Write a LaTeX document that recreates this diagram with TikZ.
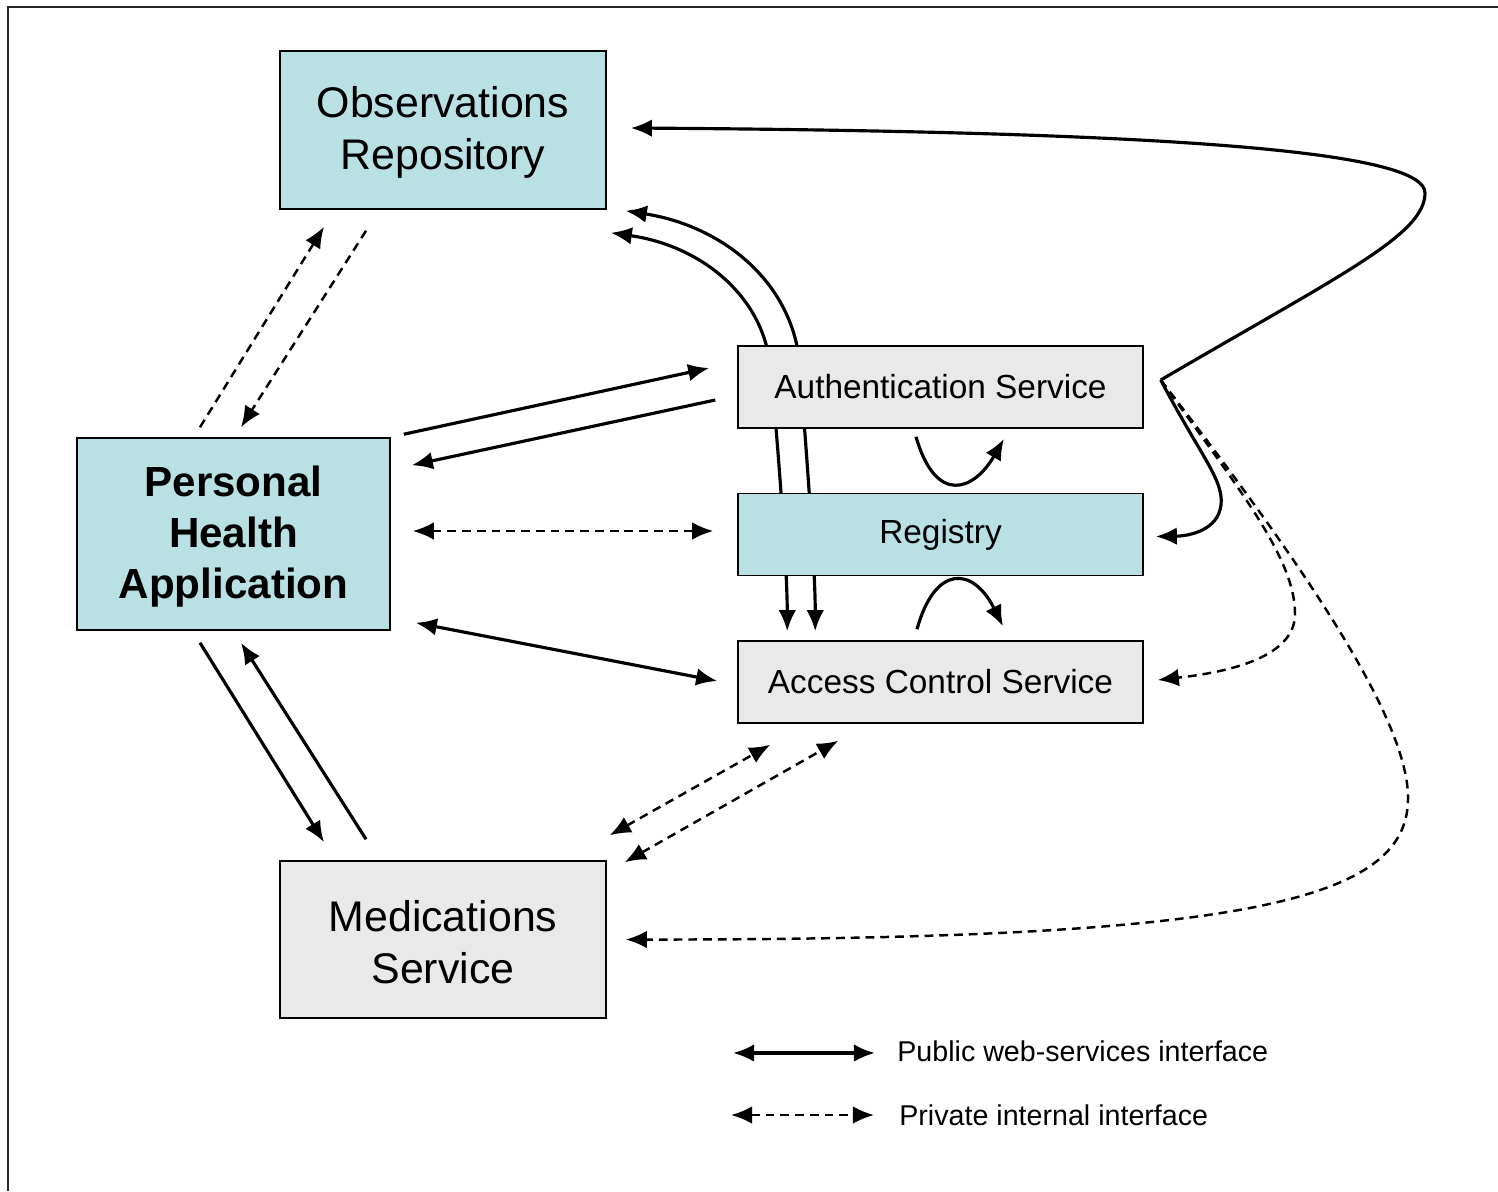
\documentclass[tikz,border=0pt]{standalone}
\usepackage{fontspec}
\setmainfont{Liberation Sans}
\usetikzlibrary{arrows.meta,calc,backgrounds}
\definecolor{boxcyan}{RGB}{185,224,227}
\definecolor{boxgray}{RGB}{233,233,233}

\begin{document}
\begin{tikzpicture}[x=0.02cm,y=-0.02cm,>={Latex[length=12pt,width=10pt]},
  pub/.style={line width=1.8pt},
  priv/.style={line width=1.4pt,dash pattern=on 5pt off 3.4pt},
  bigbox/.style={draw,line width=0.9pt,minimum width=6.52cm,minimum height=3.16cm,align=center,font=\fontsize{24.4}{29.6}\selectfont},
  svcbox/.style={draw,line width=0.9pt,minimum width=8.1cm,minimum height=1.64cm,font=\fontsize{19}{23}\selectfont},
  legtext/.style={anchor=west,inner sep=0pt,font=\fontsize{16.3}{19.5}\selectfont}]

  \useasboundingbox (0,0) rectangle (1498,1191);
  \draw[line width=1pt,black!85] (8,1191) -- (8,7) -- (1498,7);

  \node[bigbox,fill=boxcyan] (obs) at (443,130) {\strut Observations\\Repository};
  \node[draw,line width=0.9pt,fill=boxcyan,minimum width=6.26cm,minimum height=3.84cm,align=center,font=\fontsize{24}{29}\selectfont\bfseries] (pha) at (233.5,534) {\strut Personal\\Health\\Application};
  \node[svcbox,fill=boxgray] (auth) at (940.5,387) {Authentication Service};
  \node[svcbox,fill=boxcyan] (reg) at (940.5,534.5) {Registry};
  \node[svcbox,fill=boxgray] (acs) at (940.5,682) {Access Control Service};
  \node[bigbox,fill=boxgray,minimum height=3.14cm] (med) at (443,939.5) {\strut Medications\\Service};

  \coordinate (hub) at ($(auth.east)+(17,-7)$);

  \begin{pgfonlayer}{background}
    \draw[pub,<->] ($(obs.south east)+(4,23)$) .. controls +(90,13) and +(-10,-65) .. ($(auth.north west)+(32,14)$)
      .. controls +(4,26) and +(0,-72) .. ($(acs.north west)+(50,-9)$);
    \draw[pub,<->] ($(obs.south east)+(19,1)$) .. controls +(95,15) and +(-10,-80) .. ($(auth.north west)+(62,14)$)
      .. controls +(3,40) and +(0,-72) .. ($(acs.north west)+(78,-9)$);
  \end{pgfonlayer}

  \draw[priv,->] ($(pha.north)+(-33.5,-10)$) -- ($(obs.south)+(-119,17)$);
  \draw[priv,->] ($(obs.south)+(-77,21)$) -- ($(pha.north)+(7.5,-10)$);
  \draw[pub,->] ($(pha.north east)+(13,-3)$) -- ($(auth.west)+(-28,-19)$);
  \draw[pub,->] ($(auth.west)+(-22,13)$) -- ($(pha.north east)+(21,28)$);
  \draw[priv,<->] ($(pha.east)+(22,-3)$) -- ($(reg.west)+(-24,-3.5)$);
  \draw[pub,<->] ($(pha.south east)+(25,-8)$) -- ($(acs.west)+(-20,-1)$);
  \draw[pub,->] ($(pha.south)+(-33.5,12)$) -- ($(med.north)+(-119,-18)$);
  \draw[pub,->] ($(med.north)+(-77,-21)$) -- ($(pha.south)+(7.5,12)$);
  \draw[priv,<->] ($(med.north east)+(3,-25)$) -- ($(acs.south west)+(33,21)$);
  \draw[priv,<->] ($(med.north east)+(18,2)$) -- ($(acs.south west)+(101,17)$);

  \draw[pub,->] ($(auth.south)+(-24.5,8)$) .. controls +(20,69) and +(-30,52) .. ($(auth.south)+(63.5,10)$);
  \draw[pub,->] ($(acs.north)+(-23.5,-11)$) .. controls +(18,-65) and +(-30,-60) .. ($(acs.north)+(62.5,-14)$);

  \draw[pub,->] (hub) .. controls (1340,275) and (1425,235) .. (1425,193)
    .. controls (1425,155) and (1220,132) .. ($(obs.east)+(24,-2)$);
  \draw[pub,->] (hub) .. controls (1200,455) and (1224,480) .. (1221,505)
    .. controls (1218,530) and (1190,536) .. ($(reg.east)+(12,2)$);
  \draw[priv,->] (hub) .. controls (1240,490) and (1296,560) .. (1295,615)
    .. controls (1294,660) and (1220,673) .. ($(acs.east)+(14,-2)$);
  \draw[priv,->] (hub) .. controls (1300,560) and (1410,720) .. (1408,800)
    .. controls (1406,900) and (1250,940) .. ($(med.east)+(19,0)$);

  \node[legtext] (publbl) at (897,1051) {Public web-services interface};
  \node[legtext] (privlbl) at (899,1115) {Private internal interface};
  \coordinate (pubL) at (733,1053);
  \coordinate (pubR) at (875,1053);
  \coordinate (privL) at (731,1115);
  \coordinate (privR) at (874,1115);
  \draw[pub,<->] (pubL) -- (pubR);
  \draw[priv,<->] (privL) -- (privR);

\end{tikzpicture}
\end{document}
